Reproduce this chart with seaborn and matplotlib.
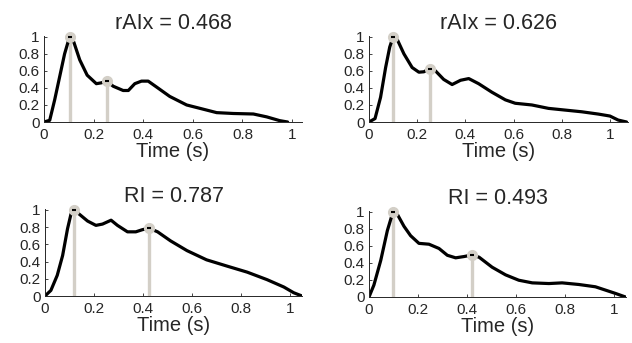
import numpy as np
import pandas as pd
import matplotlib
matplotlib.use("Agg")
import matplotlib.pyplot as plt
import seaborn as sns
from matplotlib.ticker import FormatStrFormatter

# =========================
# DATA
# =========================

titles = ["rAIx = 0.468", "rAIx = 0.626", "RI = 0.787", "RI = 0.493"]

t1 = [0, 0.023, 0.043, 0.063, 0.083, 0.103, 0.12, 0.144, 0.174, 0.211, 0.231, 0.253,
      0.279, 0.319, 0.34, 0.366, 0.393, 0.42, 0.454, 0.507, 0.575, 0.629, 0.696,
      0.763, 0.844, 0.898, 0.95, 0.982]
y1 = [0, 0.02, 0.26, 0.53, 0.80, 1.0, 0.94, 0.73, 0.55, 0.45, 0.46, 0.48,
      0.42, 0.37, 0.37, 0.45, 0.48, 0.48, 0.41, 0.30, 0.20, 0.16, 0.11,
      0.10, 0.094, 0.06, 0.016, 0.0]

t2 = [0, 0.025, 0.048, 0.069, 0.086, 0.10, 0.117, 0.145, 0.179, 0.207, 0.228, 0.252,
      0.276, 0.31, 0.345, 0.38, 0.414, 0.455, 0.51, 0.566, 0.607, 0.676, 0.745,
      0.814, 0.883, 0.952, 1.0, 1.034, 1.069]
y2 = [0, 0.04, 0.29, 0.64, 0.88, 1.0, 0.97, 0.80, 0.64, 0.585, 0.59, 0.626,
      0.60, 0.50, 0.44, 0.49, 0.51, 0.45, 0.35, 0.26, 0.22, 0.20, 0.16,
      0.14, 0.12, 0.093, 0.07, 0.023, 0.0]

t3 = [0, 0.024, 0.05, 0.072, 0.092, 0.106, 0.117, 0.14, 0.174, 0.208, 0.235, 0.27,
      0.296, 0.337, 0.371, 0.398, 0.425, 0.46, 0.513, 0.58, 0.66, 0.745, 0.826,
      0.907, 0.976, 1.016, 1.05]
y3 = [0, 0.065, 0.24, 0.47, 0.78, 0.95, 1.0, 0.95, 0.87, 0.82, 0.835, 0.88,
      0.82, 0.745, 0.745, 0.77, 0.787, 0.745, 0.64, 0.527, 0.42, 0.346, 0.277,
      0.19, 0.104, 0.038, 0.0]

t4 = [0, 0.02, 0.048, 0.075, 0.098, 0.116, 0.143, 0.17, 0.204, 0.245, 0.286, 0.32,
      0.354, 0.388, 0.42, 0.45, 0.503, 0.558, 0.612, 0.667, 0.735, 0.789, 0.857,
      0.925, 0.966, 1.007, 1.048]
y4 = [0, 0.14, 0.43, 0.78, 1.0, 0.97, 0.83, 0.72, 0.63, 0.62, 0.57, 0.49,
      0.46, 0.475, 0.493, 0.467, 0.35, 0.26, 0.197, 0.166, 0.158, 0.166, 0.147,
      0.12, 0.081, 0.042, 0.0]

peaks_t = [[0.103, 0.253], [0.10, 0.252], [0.117, 0.425], [0.098, 0.42]]
peaks_y = [[1.0, 0.48], [1.0, 0.626], [1.0, 0.787], [1.0, 0.493]]

series = [(t1, y1), (t2, y2), (t3, y3), (t4, y4)]
xmax = [1.04, 1.075, 1.05, 1.05]

# axes boxes in pixels: left, right, bottom(y0 px from top), top px
boxes = [(44, 302, 122, 36), (369, 628, 122, 36),
         (45, 302, 296, 209), (369, 626, 297, 211)]

# =========================
# STYLE
# =========================

sns.set_style("ticks")
plt.rcParams["font.family"] = ["Liberation Sans", "DejaVu Sans"]

W, H = 632, 343
fig = plt.figure(figsize=(W / 100, H / 100), dpi=100)

grey = "#d3cfc7"

for i, (t, y) in enumerate(series):
    l, r, b, tp = boxes[i]
    ax = fig.add_axes([l / W, 1 - b / H, (r - l) / W, (b - tp) / H])
    df = pd.DataFrame({"t": t, "y": y})

    # vertical markers from baseline to peaks
    for px, py in zip(peaks_t[i], peaks_y[i]):
        ax.plot([px, px], [0, py], color=grey, lw=2.4, zorder=1,
                solid_capstyle="butt")

    sns.lineplot(data=df, x="t", y="y", ax=ax, color="black", lw=2.3,
                 zorder=2, sort=False)
    ax.lines[-1].set_solid_joinstyle("round")

    ax.plot(peaks_t[i], peaks_y[i], "o", ms=7, color=grey, mec=grey,
            zorder=3, clip_on=False)
    ax.plot(peaks_t[i], peaks_y[i], "_", ms=3, mew=1.5, color="black",
            zorder=4, clip_on=False)

    ax.set_xlim(0, xmax[i])
    ax.set_ylim(0, 1.01)
    ax.set_xticks([0, 0.2, 0.4, 0.6, 0.8, 1])
    ax.set_yticks([0, 0.2, 0.4, 0.6, 0.8, 1])
    ax.xaxis.set_major_formatter(FormatStrFormatter("%g"))
    ax.yaxis.set_major_formatter(FormatStrFormatter("%g"))
    ax.tick_params(direction="in", length=2, width=0.6, labelsize=11)
    ax.tick_params(axis="x", pad=4)
    ax.tick_params(axis="y", pad=3)
    ax.set_xlabel("Time (s)", fontsize=14.5, labelpad=0)
    ax.set_ylabel("")
    ax.set_title(titles[i], fontsize=15.5, pad=5)
    sns.despine(ax=ax)
    for s in ["left", "bottom"]:
        ax.spines[s].set_linewidth(0.7)

plt.savefig("out.png", dpi=100)
plt.close()
